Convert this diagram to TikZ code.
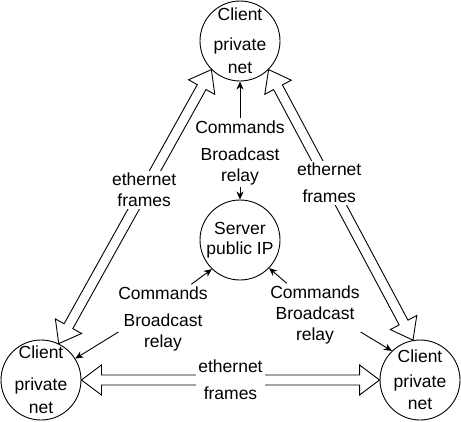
\documentclass[tikz,border=0pt]{standalone}
\usepackage{fontspec}
\setmainfont{Liberation Sans}
\usetikzlibrary{calc,positioning,arrows.meta}
\tikzset{%
  font=\fontsize{17.5}{21}\selectfont,>={Stealth[length=8pt,width=7pt,inset=2.5pt]},
  host/.style={draw,circle,minimum size=80pt,inner sep=0pt,line width=.9pt},
  hosttext/.style={align=center,inner sep=0pt},
  msg/.style={align=center,inner sep=2pt},
  ethlabel/.style={align=center,fill=white,inner sep=2pt},
  flex/.style={draw,line width=.9pt,line join=miter},
  line/.style={draw,line width=.9pt,->}
}

\begin{document}
\begin{tikzpicture}[x=1pt,y=-1pt]
	\useasboundingbox (0,0) rectangle (461,421);
	% hosts
	\node[host] (top client) at (240,41) {};
	\node[host] (server) at (240,240) {};
	\node[host] (left client) at (41,380) {};
	\node[host] (right client) at (420,380) {};
	
	\node[hosttext] (top client text) at (top client.center) {Client\\[9pt]private\\[2pt]net};
	\node[hosttext] (server text) at (server.center) {Server\\[-1pt]public IP};
	\node[hosttext] (left client text) at (left client.center) {Client\\[11pt]private\\[2pt]net};
	\node[hosttext] (right client text) at (right client.center) {Client\\[4pt]private\\[1pt]net};
	
	% ethernet links
	\foreach \a/\b/\p/\g/\n in {left client.64/top client.225/.56/0pt/left link,
		top client.315/right client.100/.42/6pt/right link,
		left client.east/right client.west/.5/6pt/bottom link} {%
		\draw[flex] (\a) -- ($(\a)!20pt!(\b)!15pt!90:(\b)$) -- ($(\a)!20pt!(\b)!5pt!90:(\b)$)
			-- ($(\b)!20pt!(\a)!5pt!-90:(\a)$) -- ($(\b)!20pt!(\a)!15pt!-90:(\a)$) -- (\b)
			-- ($(\b)!20pt!(\a)!15pt!90:(\a)$) -- ($(\b)!20pt!(\a)!5pt!90:(\a)$)
			-- ($(\a)!20pt!(\b)!5pt!-90:(\b)$) -- ($(\a)!20pt!(\b)!15pt!-90:(\b)$) -- cycle;
		\path (\a) -- node[ethlabel,pos=\p] (\n) {ethernet\\[\g]frames} (\b);
	}
	
	% control messages
	\node[msg] (top cmd) at (240,127) {Commands};
	\node[msg] (top relay) at (240,166) {Broadcast\\relay};
	\node[msg] (left cmd) at (163,293) {Commands};
	\node[msg] (left relay) at (163,332) {Broadcast\\relay};
	\node[msg] (right cmd) at (315,292) {Commands};
	\node[msg] (right relay) at (315,325) {Broadcast\\relay};
	
	\draw[line] (top cmd) -- (top client);
	\draw[line] (top relay) -- (server);
	\draw[line] ($(left cmd.north)!.6!(left cmd.north east)$) -- (server.226);
	\draw[line] ([xshift=-3pt]left relay.west) -- (left client.32);
	\draw[line] ($(right cmd.north)!.6!(right cmd.north west)$) -- (server.316);
	\draw[line] ([xshift=4pt,yshift=-7pt]right relay.east) -- (right client.134);
\end{tikzpicture}
\end{document}
